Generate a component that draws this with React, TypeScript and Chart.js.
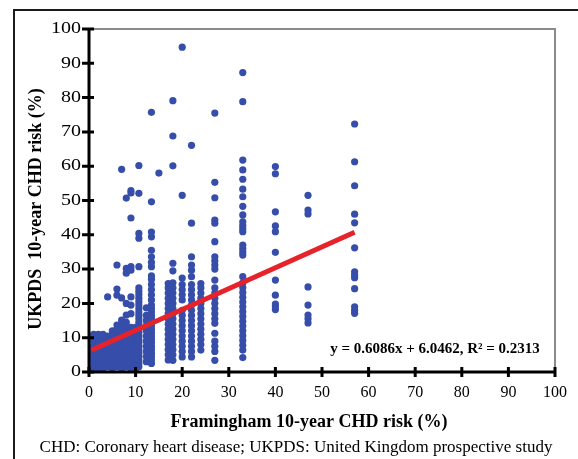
import React, { useEffect, useRef } from "react";
import { Chart, registerables } from "chart.js";

Chart.register(...registerables);

// Tick labels
const xTickValues = [0, 10, 20, 30, 40, 50, 60, 70, 80, 90, 100];
const yTickValues = [0, 10, 20, 30, 40, 50, 60, 70, 80, 90, 100];

// Framingham risk levels (x) with the UKPDS risks (y) observed at each level
const framinghamLevels = [0.5, 1, 2, 3, 4, 5, 6, 7, 8, 9, 10, 10.7, 12.3, 13.4, 15, 17, 18, 20, 22, 24, 27, 33, 40, 47, 57];

const ukpdsAt0_5 = [0.5, 1.5, 2.5, 3.5, 4.5, 5.5, 7];
const ukpdsAt1 = [1, 2, 3, 4, 5, 6, 7, 8, 9, 10, 11];
const ukpdsAt2 = [0.5, 1.5, 2.5, 3.5, 4.5, 5.5, 6.5, 7.5, 8.5, 9.5, 11];
const ukpdsAt3 = [1, 2, 3, 4, 5, 6, 7, 8, 9, 10, 11];
const ukpdsAt4 = [1.5, 2.5, 3.5, 4.5, 5.5, 6.5, 7.5, 8.5, 9.5, 10.5, 21.9];
const ukpdsAt5 = [1, 2, 3, 4, 5, 6, 7, 8, 9, 10, 11, 12];
const ukpdsAt6 = [1.5, 2.5, 3.5, 4.5, 5.5, 6.5, 7.5, 8.5, 9.5, 10.5, 11.5, 12.5, 13.7, 22.4, 24.2, 31.2];
const ukpdsAt7 = [1, 2, 3, 4, 5, 6, 7, 8, 9, 10, 11, 12, 13, 14, 15.1, 21.6, 59.1];
const ukpdsAt8 = [1.5, 2.5, 3.5, 4.5, 5.5, 6.5, 7.5, 8.5, 9.5, 10.5, 11.5, 12.5, 13.5, 14.5, 16.6, 20, 28.8, 30.2, 50.7];
const ukpdsAt9 = [1, 2, 3, 4, 5, 6, 7, 8, 9, 10, 11, 12, 13, 17, 19.5, 21.9, 29.7, 30.7, 44.9, 52.2, 52.9];
const ukpdsAt10 = [1, 2, 3, 4, 5, 6, 7, 8, 9, 10, 11, 12, 13];
const ukpdsAt10_7 = [1.5, 2.5, 3.5, 4.5, 5.5, 6.5, 7.5, 8.5, 9.5, 10.5, 11.5, 12.5, 13.5, 14.5, 15.5, 16.5, 17.5, 18.5, 19.5, 20.5, 21.5, 22.5, 23.5, 24.5, 30.7, 39, 40.4, 52.1, 60.2];
const ukpdsAt12_3 = [3, 4.5, 6, 7.5, 9, 10.5, 12, 13.5, 15, 16.5, 18.7];
const ukpdsAt13_4 = [2.5, 3.5, 4.5, 5.5, 6.5, 7.5, 8.5, 9.5, 10.5, 11.5, 12.5, 13.5, 14.5, 15.5, 16.5, 17.5, 18.5, 19.5, 21, 22.5, 24, 25.5, 27, 28, 30.7, 32, 33.6, 35.5, 39.4, 40.8, 49.6, 75.7];
const ukpdsAt15 = [58];
const ukpdsAt17 = [3.5, 5, 6.5, 8, 9.5, 11, 12.5, 14, 15.5, 17, 18.5, 20, 21.5, 23, 24.5, 25.8];
const ukpdsAt18 = [3.4, 5, 6.5, 8, 9.5, 11, 12.5, 14, 15.5, 17, 18.5, 20, 21.5, 23, 24.5, 26, 29.5, 31.7, 60.1, 68.8, 79.1];
const ukpdsAt20 = [4.4, 6, 7.5, 9, 10.5, 12, 13.5, 15, 16.5, 18, 21, 22.5, 24, 25.5, 27.4, 51.5, 94.7];
const ukpdsAt22 = [4.4, 6, 7.5, 9, 10.5, 12, 13.5, 15, 16.5, 18, 19.5, 21, 22.5, 24, 25.5, 27.8, 29.7, 31.2, 33.6, 43.4, 66.1];
const ukpdsAt24 = [6.4, 8, 9.5, 11, 12.5, 14, 15.5, 17, 18.5, 20, 21.5, 23, 24.5, 25.8];
const ukpdsAt27 = [3.4, 6, 7.5, 9, 11.3, 14.2, 15.5, 17, 18.5, 20, 21.5, 23, 24.5, 26.8, 30, 31.2, 32.4, 33.6, 38, 43.4, 44.3, 50.8, 55.3, 75.5];
const ukpdsAt33 = [4.2, 6.4, 7.8, 9.2, 10.6, 12, 13.4, 14.8, 16.2, 17.6, 19, 20.4, 21.8, 23.2, 24.6, 26, 27.8, 34.1, 35, 36, 37, 40.9, 41.8, 42.7, 43.8, 45.8, 48.3, 51.1, 53.3, 56.2, 58.9, 61.8, 78.8, 87.3];
const ukpdsAt40 = [18.2, 19, 19.8, 22.4, 26.8, 34.9, 40.9, 42.6, 46.7, 57.8, 59.9];
const ukpdsAt47 = [14.3, 15.5, 16.6, 19.5, 24.8, 46.1, 47.2, 51.5];
const ukpdsAt57 = [17.1, 18, 19, 24.3, 27.5, 28.3, 29.2, 36.2, 43.5, 46, 54.3, 61.3, 72.3];

const ukpdsColumns = [
  ukpdsAt0_5, ukpdsAt1, ukpdsAt2, ukpdsAt3, ukpdsAt4, ukpdsAt5, ukpdsAt6, ukpdsAt7, ukpdsAt8, ukpdsAt9,
  ukpdsAt10, ukpdsAt10_7, ukpdsAt12_3, ukpdsAt13_4, ukpdsAt15, ukpdsAt17, ukpdsAt18, ukpdsAt20, ukpdsAt22,
  ukpdsAt24, ukpdsAt27, ukpdsAt33, ukpdsAt40, ukpdsAt47, ukpdsAt57,
];

// Linear trend line end points (y = 0.6086x + 6.0462)
const trendX = [0.5, 57];
const trendY = [6.35, 40.74];

const equationText = "y = 0.6086x + 6.0462, R\u00B2 = 0.2313";
const xTitle = "Framingham 10-year CHD risk (%)";
const yTitle = "UKPDS  10-year CHD risk (%)";
const footerText = "CHD: Coronary heart disease; UKPDS: United Kingdom prospective study";

const SERIF = '"Liberation Serif", "Times New Roman", serif';

export default function App() {
  const canvasRef = useRef<HTMLCanvasElement | null>(null);

  useEffect(() => {
    document.body.style.margin = "0";
    const canvas = canvasRef.current;
    if (!canvas) return;

    const points: { x: number; y: number }[] = [];
    framinghamLevels.forEach((fx, i) => {
      ukpdsColumns[i].forEach((uy) => points.push({ x: fx, y: uy }));
    });

    const decorPlugin = {
      id: "decor",
      afterDatasetsDraw(chart: any) {
        const ctx = chart.ctx as CanvasRenderingContext2D;
        const { left, right, top, bottom } = chart.chartArea;
        const xs = chart.scales.x;
        const ys = chart.scales.y;
        ctx.save();
        // gray plot border (top and right)
        ctx.strokeStyle = "#8a8a8a";
        ctx.lineWidth = 2;
        ctx.beginPath();
        ctx.moveTo(left, top);
        ctx.lineTo(right, top);
        ctx.lineTo(right, bottom);
        ctx.stroke();
        // axes
        ctx.strokeStyle = "#000";
        ctx.lineWidth = 3;
        ctx.beginPath();
        ctx.moveTo(left, top);
        ctx.lineTo(left, bottom + 1.5);
        ctx.moveTo(left - 1.5, bottom);
        ctx.lineTo(right + 1, bottom);
        ctx.stroke();
        // crossing tick marks
        ctx.beginPath();
        yTickValues.forEach((v) => {
          const py = ys.getPixelForValue(v);
          ctx.moveTo(left - 7, py);
          ctx.lineTo(left + 5, py);
        });
        xTickValues.forEach((v) => {
          const px = xs.getPixelForValue(v);
          ctx.moveTo(px, bottom - 5);
          ctx.lineTo(px, bottom + 5);
        });
        ctx.stroke();

        ctx.fillStyle = "#000";
        // y tick labels (slightly wide serif digits, as in the source)
        ctx.font = `16px ${SERIF}`;
        ctx.textAlign = "right";
        ctx.textBaseline = "middle";
        yTickValues.forEach((v) => {
          const py = ys.getPixelForValue(v);
          ctx.save();
          ctx.translate(left - 8, py);
          ctx.scale(1.25, 1);
          ctx.fillText(String(v), 0, 0);
          ctx.restore();
        });

        // equation
        ctx.font = `bold 15px ${SERIF}`;
        ctx.textAlign = "center";
        ctx.textBaseline = "alphabetic";
        ctx.fillText(equationText, 435, 353);

        // x title
        ctx.font = `bold 18px ${SERIF}`;
        ctx.fillText(xTitle, 309, 427);

        // y title
        ctx.save();
        ctx.translate(41, 209);
        ctx.rotate(-Math.PI / 2);
        ctx.fillText(yTitle, 0, 0);
        ctx.restore();

        // footer
        ctx.font = `17px ${SERIF}`;
        ctx.fillText(footerText, 296, 452);
        ctx.restore();
      },
    };

    const chart = new Chart(canvas, {
      type: "scatter",
      data: {
        datasets: [
          {
            label: "Trend",
            data: trendX.map((x, i) => ({ x, y: trendY[i] })),
            showLine: true,
            borderColor: "#e6232a",
            borderWidth: 5,
            pointRadius: 0,
            borderCapStyle: "butt",
          } as any,
          {
            label: "Patients",
            data: points,
            backgroundColor: "rgb(54,78,170)",
            borderWidth: 0,
            pointRadius: 3.6,
            pointHoverRadius: 3.6,
          },
        ],
      },
      plugins: [decorPlugin],
      options: {
        responsive: false,
        animation: false,
        devicePixelRatio: 1,
        layout: { padding: { left: 0, top: 29, right: 22, bottom: 0 } },
        plugins: {
          legend: { display: false },
          tooltip: { enabled: false },
        },
        scales: {
          x: {
            type: "linear",
            min: 0,
            max: 100,
            afterBuildTicks: (s: any) => {
              s.ticks = xTickValues.map((v) => ({ value: v }));
            },
            ticks: {
              color: "#000",
              font: { family: SERIF, size: 16 },
              padding: 11,
              maxRotation: 0,
            },
            grid: { display: false, drawTicks: false },
            border: { display: false },
            afterFit: (s: any) => {
              s.height = 87;
            },
          },
          y: {
            type: "linear",
            min: 0,
            max: 100,
            afterBuildTicks: (s: any) => {
              s.ticks = yTickValues.map((v) => ({ value: v }));
            },
            ticks: { display: false },
            grid: { display: false, drawTicks: false },
            border: { display: false },
            afterFit: (s: any) => {
              s.width = 89;
            },
          },
        },
      } as any,
    });
    return () => chart.destroy();
  }, []);

  return (
    <div style={{ position: "relative", width: 578, height: 459, overflow: "hidden", background: "#fff" }}>
      <canvas ref={canvasRef} width={578} height={459} style={{ position: "absolute", left: 0, top: 0 }} />
      <div
        style={{
          position: "absolute",
          left: 13,
          top: 9,
          width: 620,
          height: 520,
          borderLeft: "2px solid #1a1a1a",
          borderTop: "2px solid #1a1a1a",
          pointerEvents: "none",
        }}
      />
    </div>
  );
}
